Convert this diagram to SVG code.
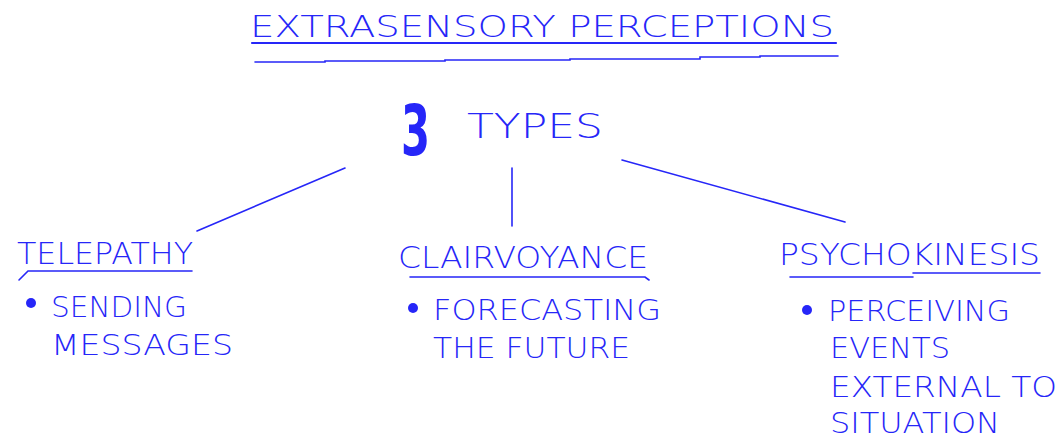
<svg xmlns="http://www.w3.org/2000/svg" width="1060" height="442" viewBox="0 0 1060 442">
  <style>
    .ink { fill: #2626f8; font-family: "DejaVu Sans", "Liberation Sans", sans-serif; font-weight: 200; }
    .head { font-size: 31px; }
    .body { font-size: 28px; }
    .dot { fill: #2626f8; }
    .pen { stroke: #2626f8; stroke-width: 1.6; fill: none; stroke-linecap: round; }
    .rule { stroke: #2626f8; stroke-width: 2.2; fill: none; stroke-linecap: round; }
  </style>
  <rect width="1060" height="442" fill="#ffffff"/>

  <!-- title with double underline -->
  <g id="title">
    <text class="ink head" x="250" y="37" textLength="584" lengthAdjust="spacingAndGlyphs">EXTRASENSORY PERCEPTIONS</text>
    <line class="rule" x1="252" y1="43" x2="836" y2="43"/>
    <path class="pen" stroke-width="2" d="M255 62 H325 V61 H445 V60 H570 V59 H700 V57 H760 V56 H838"/>
  </g>

  <!-- root -->
  <g id="root">
    <text class="ink" x="401" y="155" font-size="70" style="font-weight:700" textLength="29" lengthAdjust="spacingAndGlyphs">3</text>
    <text class="ink" x="467" y="138" font-size="33" textLength="136" lengthAdjust="spacingAndGlyphs">TYPES</text>
  </g>

  <!-- connectors -->
  <g id="connectors">
    <line class="pen" x1="345" y1="168" x2="197" y2="231"/>
    <line class="pen" x1="512" y1="168" x2="512" y2="226"/>
    <line class="pen" x1="622" y1="160" x2="845" y2="222"/>
  </g>

  <!-- telepathy -->
  <g id="telepathy">
    <text class="ink head" x="17" y="264" textLength="176" lengthAdjust="spacingAndGlyphs">TELEPATHY</text>
    <path class="pen" d="M19 280 L28 271 H192"/>
    <circle class="dot" cx="31" cy="303" r="5"/>
    <text class="ink body" x="51" y="317" textLength="136" lengthAdjust="spacingAndGlyphs">SENDING</text>
    <text class="ink body" x="51" y="355" textLength="182" lengthAdjust="spacingAndGlyphs">MESSAGES</text>
  </g>

  <!-- clairvoyance -->
  <g id="clairvoyance">
    <text class="ink head" x="398" y="268" textLength="250" lengthAdjust="spacingAndGlyphs">CLAIRVOYANCE</text>
    <path class="pen" d="M410 277 H645 L649 280"/>
    <circle class="dot" cx="413" cy="308" r="5"/>
    <text class="ink body" x="433" y="320" textLength="228" lengthAdjust="spacingAndGlyphs">FORECASTING</text>
    <text class="ink body" x="433" y="358" textLength="197" lengthAdjust="spacingAndGlyphs">THE FUTURE</text>
  </g>

  <!-- psychokinesis -->
  <g id="psychokinesis">
    <text class="ink head" x="779" y="265" textLength="261" lengthAdjust="spacingAndGlyphs">PSYCHOKINESIS</text>
    <path class="pen" d="M790 277 H913 M913 273 H1040"/>
    <circle class="dot" cx="807" cy="310" r="5"/>
    <text class="ink body" x="828" y="321" textLength="182" lengthAdjust="spacingAndGlyphs">PERCEIVING</text>
    <text class="ink body" x="830" y="358" textLength="120" lengthAdjust="spacingAndGlyphs">EVENTS</text>
    <text class="ink body" x="830" y="397" textLength="227" lengthAdjust="spacingAndGlyphs">EXTERNAL TO</text>
    <text class="ink body" x="830" y="433" textLength="170" lengthAdjust="spacingAndGlyphs">SITUATION</text>
  </g>
</svg>
